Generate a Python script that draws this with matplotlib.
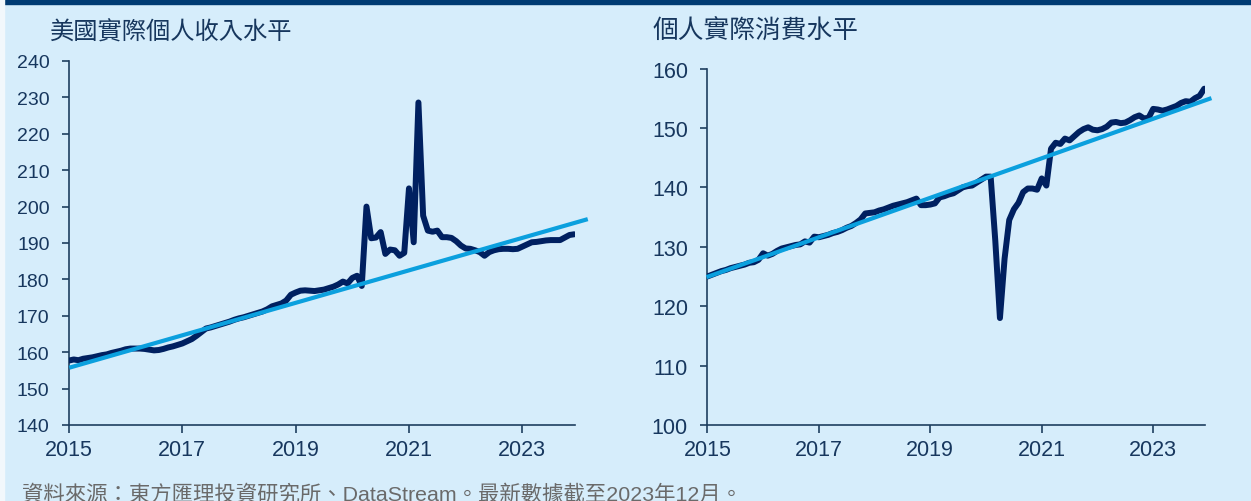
import matplotlib.pyplot as plt
import numpy as np
from matplotlib.patches import Rectangle

# monthly data, Jan 2015 - Dec 2023
income = [157.7, 158.0, 157.8, 158.2, 158.4, 158.6, 158.9, 159.2, 159.4, 159.8, 160.1, 160.4,
          160.8, 161.0, 161.0, 161.0, 160.9, 160.7, 160.5, 160.6, 160.9, 161.3, 161.6, 162.0,
          162.4, 163.0, 163.6, 164.5, 165.5, 166.5, 166.8, 167.2, 167.6, 168.0, 168.4, 168.9,
          169.3, 169.6, 170.0, 170.4, 170.8, 171.2, 171.8, 172.6, 173.0, 173.4, 174.2, 175.8,
          176.4, 176.9, 177.0, 176.9, 176.8, 177.0, 177.2, 177.6, 178.0, 178.6, 179.4, 178.9,
          180.4, 181.0, 178.2, 200.0, 191.3, 191.5, 193.0, 187.0, 188.2, 188.0, 186.5, 187.3,
          205.0, 190.2, 228.6, 197.5, 193.4, 193.1, 193.4, 191.6, 191.6, 191.4, 190.5, 189.3,
          188.5, 188.4, 188.0, 187.5, 186.5, 187.5, 188.0, 188.3, 188.4, 188.4, 188.3, 188.4,
          189.0, 189.6, 190.2, 190.3, 190.5, 190.7, 190.8, 190.8, 190.8, 191.5, 192.2, 192.4]

consumption = [125.0, 125.3, 125.6, 125.9, 126.1, 126.4, 126.6, 126.8, 127.0, 127.3, 127.4, 127.8,
               128.9, 128.5, 128.8, 129.3, 129.7, 129.9, 130.1, 130.3, 130.4, 130.9, 130.7, 131.7,
               131.6, 131.8, 132.0, 132.3, 132.5, 132.8, 133.2, 133.5, 134.0, 134.6, 135.6, 135.7,
               135.8, 136.1, 136.3, 136.6, 136.9, 137.1, 137.3, 137.5, 137.8, 138.1, 137.0, 137.0,
               137.1, 137.3, 138.3, 138.5, 138.8, 139.0, 139.5, 140.0, 140.2, 140.3, 140.8, 141.3,
               141.8, 141.8, 131.0, 118.0, 128.0, 134.5, 136.3, 137.4, 139.2, 139.8, 139.8, 139.6,
               141.5, 140.3, 146.5, 147.5, 147.3, 148.2, 147.9, 148.6, 149.3, 149.8, 150.1, 149.7,
               149.6, 149.8, 150.2, 150.9, 151.0, 150.8, 150.9, 151.3, 151.8, 152.1, 151.6, 151.7,
               153.2, 153.1, 152.9, 153.1, 153.4, 153.7, 154.2, 154.5, 154.4, 155.0, 155.4, 156.6]

months = 2015 + np.arange(len(income)) / 12.0

# trend lines (start / end)
trend_x1 = [2015.04, 2024.12]
trend_y1 = [155.9, 196.4]
trend_x2 = [2015.02, 2024.01]
trend_y2 = [125.0, 154.9]

year_ticks = [2015, 2017, 2019, 2021, 2023]
title1 = '美國實際個人收入水平'
title2 = '個人實際消費水平'
source = '資料來源：東方匯理投資研究所、DataStream。最新數據截至2023年12月。'

bg = '#d6edfb'
navy = '#002060'
cyan = '#0ba0de'
axcol = '#1f3f60'
txtcol = '#17375e'
fams = ['Liberation Sans', 'Noto Sans CJK TC', 'DejaVu Sans']
plt.rcParams['font.family'] = fams

fig = plt.figure(figsize=(12.51, 5.02), dpi=100, facecolor=bg)
fig.patches.append(Rectangle((0, 1 - 5 / 502), 1, 5 / 502, transform=fig.transFigure,
                             color='#003b73', zorder=0))
fig.patches.append(Rectangle((0, 0), 4 / 1251, 1, transform=fig.transFigure,
                             color='#f2f8fc', zorder=0))

ax1 = fig.add_axes([69 / 1251, 76 / 502, (575 - 69) / 1251, (426 - 62) / 502])
ax2 = fig.add_axes([707.4 / 1251, 76 / 502, (1205 - 707.4) / 1251, (426 - 69.5) / 502])

panels = [(ax1, income, trend_x1, trend_y1, (140, 240), np.arange(140, 241, 10), 14),
          (ax2, consumption, trend_x2, trend_y2, (100, 160), np.arange(100, 161, 10), 15.5)]

for ax, vals, tx, ty, ylim, yt, yfs in panels:
    ax.set_facecolor(bg)
    ax.plot(months, vals, color=navy, lw=4.3, solid_capstyle='round',
            solid_joinstyle='round', zorder=3)
    ax.plot(tx, ty, color=cyan, lw=3.0, clip_on=False, zorder=4)
    ax.set_xlim(2015, 2023.93)
    ax.set_ylim(*ylim)
    ax.set_yticks(yt)
    ax.set_xticks(year_ticks)
    for s in ['top', 'right']:
        ax.spines[s].set_visible(False)
    for s in ['left', 'bottom']:
        ax.spines[s].set_color(axcol)
        ax.spines[s].set_linewidth(1.2)
    ax.tick_params(axis='y', colors=axcol, labelcolor=txtcol, length=5, width=1.2,
                   pad=9, labelsize=yfs)
    ax.tick_params(axis='x', colors=axcol, labelcolor=txtcol, length=6, width=1.2,
                   pad=4, labelsize=15.5)

fig.text(50 / 1251, 1 - 33 / 502, title1, fontsize=17.5, color=txtcol, va='center',
         family=['Noto Sans CJK TC', 'DejaVu Sans'])
fig.text(653 / 1251, 1 - 31 / 502, title2, fontsize=18.5, color=txtcol, va='center',
         family=['Noto Sans CJK TC', 'DejaVu Sans'])
fig.text(22 / 1251, 1 - 494 / 502, source, fontsize=15.4, color='#6a6a6a', va='center',
         family=fams)

fig.savefig('out.png', dpi=100, facecolor=bg)
